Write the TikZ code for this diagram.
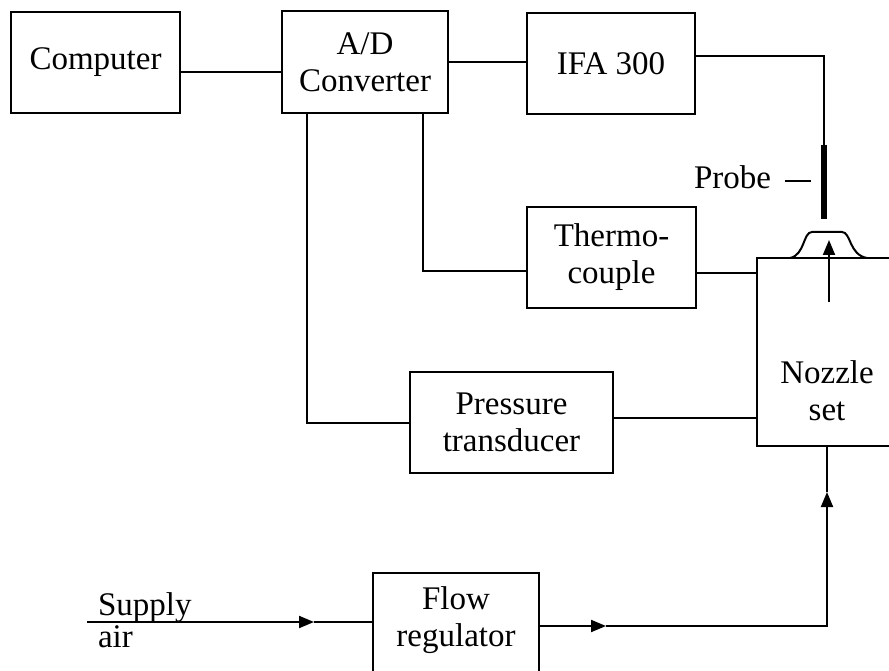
\documentclass[tikz,border=0pt]{standalone}
\usepackage{fontspec}
\setmainfont{Liberation Serif}
\usetikzlibrary{arrows.meta}
\begin{document}
\begin{tikzpicture}[x=1pt,y=-1pt, line width=2pt,
  blk/.style={draw, rectangle, inner sep=0pt, align=center, font=\fontsize{33}{37}\selectfont},
  lbl/.style={inner sep=0pt, align=center, font=\fontsize{33}{37}\selectfont},
  tip/.style={-{Triangle[length=15pt,width=12pt]}}]
\useasboundingbox (0,0) rectangle (889,671);
\clip (0,0) rectangle (889,671);
% blocks
\node[blk, minimum width=169pt, minimum height=101pt] (comp) at (95.5,62.5) {Computer};
\node[blk, minimum width=166pt, minimum height=102pt] (ad) at (365,62) {A/D\\Converter};
\node[blk, minimum width=168pt, minimum height=101pt] (ifa) at (611,63.5) {IFA 300};
\node[blk, minimum width=169pt, minimum height=101pt] (tc) at (611.5,257.5) {Thermo-\\couple};
\node[blk, minimum width=203pt, minimum height=101pt] (pt) at (511.5,422.5) {Pressure\\transducer};
\node[blk, minimum width=166pt, minimum height=130pt] (fr) at (456,638) {};
\node[lbl] (frt) at (456,620) {Flow\\regulator};
\node[blk, minimum width=150pt, minimum height=188pt] (nz) at (832,352) {};
\node[lbl] (nzt) at (827,391) {Nozzle\\set};
% helper coordinates
\coordinate (y72) at (0,72);
\coordinate (y62) at (0,62);
\coordinate (y56) at (0,56);
\coordinate (y273) at (0,273);
\coordinate (y418) at (0,418);
\coordinate (pr1) at (824,145);
\coordinate (pr2) at (824,219);
\coordinate (pd1) at (785,181);
\coordinate (pd2) at (811,181);
\coordinate (ad1) at (307,113);
\coordinate (ad2) at (423,113);
\coordinate (tcin) at (527,271);
\coordinate (na1) at (829,302);
\coordinate (na2) at (829,240);
\coordinate (s0) at (87,622);
\coordinate (s1) at (314,622);
\coordinate (o0) at (539,626);
\coordinate (o1) at (606,626);
\coordinate (o2) at (827,626);
\coordinate (o3) at (827,492);
% connectors
\draw (comp.east |- y72) -- (ad.west |- y72);
\draw (ad.east |- y62) -- (ifa.west |- y62);
\draw (ifa.east |- y56) -| (pr1);
\draw[line width=6pt] (pr1) -- (pr2);
\node[lbl, anchor=base west] (probe) at (693,189) {Probe};
\draw (pd1) -- (pd2);
% nozzle cap
\draw (790,258) .. controls (805,255) and (803,232) .. (812,232) -- (842,232)
      .. controls (851,232) and (849,255) .. (867,258);
\draw[tip] (na1) -- (na2);
\draw (ad2) |- (tcin);
\draw (tc.east |- y273) -- (nz.west |- y273);
\draw (ad1) |- (pt.west);
\draw (pt.east |- y418) -- (nz.west |- y418);
% supply
\draw[tip] (s0) -- (s1);
\draw (s1) -- (fr.west |- s1);
\node[lbl, anchor=base west] (sup) at (97,615) {Supply};
\node[lbl, anchor=base west] (air) at (97,647) {air};
\draw[tip] (o0) -- (o1);
\draw[tip] (o1) -- (o2) -- (o3);
\draw (o3) -- (nz.south -| o3);
\end{tikzpicture}
\end{document}
